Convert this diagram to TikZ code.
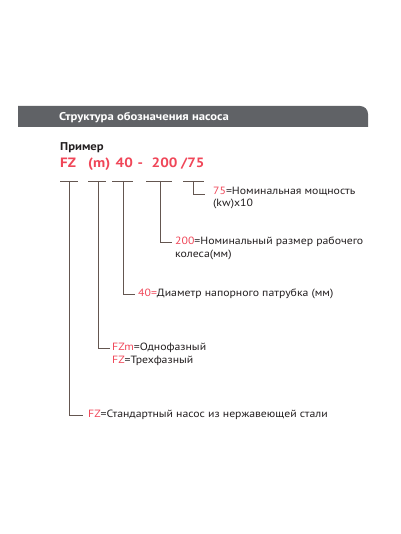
\documentclass[tikz,border=0pt]{standalone}
\usepackage{fontspec}
\setmainfont{PT Sans}[FakeStretch=1.12]
\definecolor{hdr}{RGB}{96,98,102}
\definecolor{redc}{RGB}{240,70,88}
\definecolor{txt}{RGB}{35,31,32}
\definecolor{linec}{RGB}{100,86,80}
\begin{document}
\begin{tikzpicture}[x=1pt,y=-1pt,
  lbl/.style={anchor=west,inner sep=0pt,font=\fontsize{10.5}{12}\selectfont,text=txt},
  codetxt/.style={anchor=base west,inner sep=0pt,font=\bfseries\fontsize{13.5}{16}\selectfont,text=redc},
  conn/.style={draw=linec,line width=0.8pt}]
\useasboundingbox[fill=white] (0,0) rectangle (400,534);
% header bar
\fill[hdr] (18,127) -- (18,106) -- (360,106) arc(-90:0:8) -- (368,127) -- cycle;
\node[anchor=base west,inner sep=0pt,text=white,font=\bfseries\fontsize{11.3}{13}\selectfont] (title) at (59,120.7) {Структура обозначения насоса};
\node[anchor=base west,inner sep=0pt,text=txt,font=\bfseries\fontsize{11.3}{13}\selectfont] (ex) at (60,151) {Пример};
% code
\node[codetxt] (cFZ) at (60,167.5) {FZ};
\node[codetxt] (cm) at (88,167.5) {(m)};
\node[codetxt] (c40) at (115.5,167.5) {40};
\node[codetxt] (cdash) at (137.5,167.5) {-};
\node[codetxt] (c200) at (151.5,167.5) {200};
\node[codetxt] (c75) at (181,167.5) {/75};
% labels
\node[lbl] (l5) at (213,191) {\textcolor{redc}{75}=Номинальная мощность};
\node[lbl] (l5b) at (213,204) {(kw)x10};
\node[lbl] (l4) at (175,242) {\textcolor{redc}{200}=Номинальный размер рабочего};
\node[lbl] (l4b) at (175,255) {колеса(мм)};
\node[lbl] (l3) at (138,294) {\textcolor{redc}{40=}Диаметр напорного патрубка (мм)};
\node[lbl] (l2) at (112,348) {\textcolor{redc}{FZm}=Однофазный};
\node[lbl] (l2b) at (112,361) {\textcolor{redc}{FZ}=Трехфазный};
\node[lbl] (l1) at (88,415) {\textcolor{redc}{FZ}=Стандартный насос из нержавеющей стали};
% bars
\coordinate (b1l) at (60,181); \coordinate (b1r) at (78,181); \coordinate (b1) at (69,181);
\coordinate (b2l) at (88,181); \coordinate (b2r) at (106,181); \coordinate (b2) at (98,181);
\coordinate (b3l) at (112,181); \coordinate (b3r) at (133,181); \coordinate (b3) at (123,181);
\coordinate (b4l) at (146,181); \coordinate (b4r) at (172,181); \coordinate (b4) at (160,181);
\coordinate (b5l) at (183,181); \coordinate (b5r) at (204,181); \coordinate (b5) at (193,181);
\draw[conn] (b1l) -- (b1r) (b1) |- ([xshift=-5pt]l1.west);
\draw[conn] (b2l) -- (b2r) (b2) |- ([xshift=-2pt]l2.west);
\draw[conn] (b3l) -- (b3r) (b3) |- ([xshift=-3pt]l3.west);
\draw[conn] (b4l) -- (b4r) (b4) |- ([xshift=-3pt]l4.west);
\draw[conn] (b5l) -- (b5r) (b5) |- ([xshift=-8pt,yshift=-3pt]l5.west);
\end{tikzpicture}
\end{document}
